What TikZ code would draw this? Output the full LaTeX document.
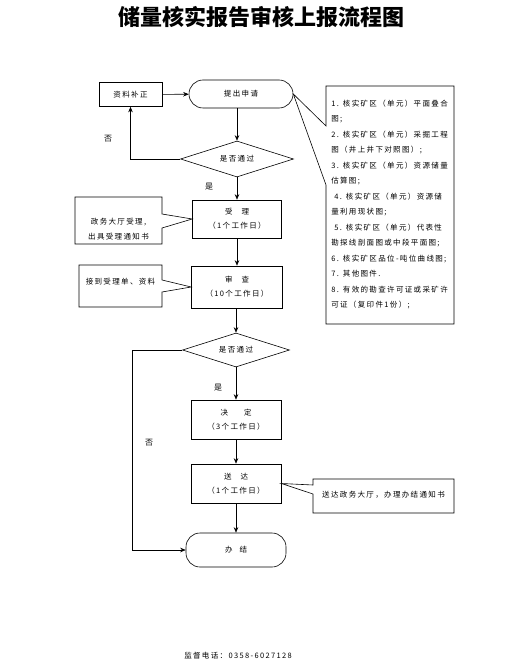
\documentclass[tikz,border=0pt]{standalone}
\usepackage{fontspec}
\setmainfont{Noto Sans CJK SC}
\newfontfamily\spaced{Noto Sans CJK SC}[LetterSpace=18]
\usetikzlibrary{arrows.meta,shapes.geometric}

\begin{document}
\begin{tikzpicture}[x=1pt,y=-1pt,line width=0.6pt,
    >={Stealth[length=5.5pt,width=4.5pt]},
    stage/.style ={rectangle, draw, align=center, inner sep=0pt,
                   font=\spaced\fontsize{7.5}{14}\selectfont},
    term/.style  ={stage, rounded corners=14pt},
    test/.style  ={diamond, draw, aspect=3, inner sep=0pt,
                   font=\spaced\fontsize{7.5}{14}\selectfont},
    note/.style  ={align=center, inner sep=0pt,
                   font=\spaced\fontsize{7.5}{15}\selectfont},
    lbl/.style   ={inner sep=0pt, font=\fontsize{8}{8}\selectfont}]
   \useasboundingbox (0,0) rectangle (520,671);
   \node[font=\bfseries\fontsize{22}{24}\selectfont] (ttl) at (261,17) {储量核实报告审核上报流程图};
   % main flow
   \node[stage, minimum width=63, minimum height=24] (bu)    at (130.5,94.5) {资料补正};
   \node[term, minimum width=104, minimum height=28] (apply) at (241,94)    {提出申请};
   \node[test, minimum width=113, minimum height=36] (d1)    at (237,159)   {是否通过};
   \node[stage, minimum width=89, minimum height=38] (shou)  at (237,219)   {受\hspace{9pt}理\\（1个工作日）};
   \node[stage, minimum width=91, minimum height=42] (cha)   at (237,287)   {审\hspace{9pt}查\\（10个工作日）};
   \node[test, minimum width=107, minimum height=34] (d2)    at (236,350)   {是否通过};
   \node[stage, minimum width=90, minimum height=39] (jue)   at (236,419.5) {决\hspace{16pt}定\\（3个工作日）};
   \node[stage, minimum width=90, minimum height=39] (song)  at (236,483.5) {送\hspace{9pt}达\\（1个工作日）};
   \node[term, minimum width=100, minimum height=34] (end)   at (236,550)   {办\hspace{7pt}结};
   \coordinate (back) at (132,350);
   % labels
   \node[lbl] (no1)  at (108,139) {否};
   \node[lbl] (yes1) at (209,187) {是};
   \node[lbl] (yes2) at (218,388) {是};
   \node[lbl] (no2)  at (149,443) {否};
   % notes
   \node[note] (c1) at (118.5,229) {政务大厅受理,\\出具受理通知书};
   \node[note] (c2) at (120.5,282) {接到受理单、资料};
   \node[note, anchor=north west, align=left,
         font=\spaced\fontsize{7.5}{15.5}\selectfont] (list) at (331,99.5)
     {1. 核实矿区（单元）平面叠合\\图;\\2. 核实矿区（单元）采掘工程\\图（井上井下对照图）;\\3. 核实矿区（单元）资源储量\\估算图;\\
      \ 4. 核实矿区（单元）资源储\\量利用现状图;\\\ 5. 核实矿区（单元）代表性\\勘探线剖面图或中段平面图;\\6. 核实矿区品位-吨位曲线图;\\
      7. 其他图件.\\8. 有效的勘查许可证或采矿许\\可证（复印件1份）;};
   \node[note] (c4) at (383.5,495) {送达政务大厅，办理办结通知书};
   \node[note, font=\spaced\fontsize{7.5}{8}\selectfont] (tel) at (238,656) {监督电话：0358-6027128};
   \draw (75,197) -- (162,197) -- (162,214) -- (shou.west) -- (162,228) -- (162,244) -- (75,244) -- cycle;
   \draw (79,265) -- (162,265) -- (162,280) -- (cha.west) -- (162,292) -- (162,307) -- (79,307) -- cycle;
   \draw (326,86) -- (454,86) -- (454,324) -- (326,324) -- (326,185) -- (apply.east) -- (326,126) -- cycle;
   \draw (313,479) -- (454,479) -- (454,513) -- (313,513) -- (313,494) -- (song.east) -- (313,485) -- cycle;
   % connectors
   \draw[->] (bu) -- (apply);
   \draw[->] (apply.south -| d1) -- (d1);
   \draw[->] (d1.west) -| (bu.south);
   \draw[->] (d1) -- (shou);
   \draw[->] (shou) -- (cha);
   \draw[->] (cha.south -| d2) -- (d2);
   \draw[->] (d2) -- (jue);
   \draw[->] (jue) -- (song);
   \draw[->] (song) -- (end);
   \draw[->] (d2.west) -- (back) |- (end.west);
\end{tikzpicture}
\end{document}
